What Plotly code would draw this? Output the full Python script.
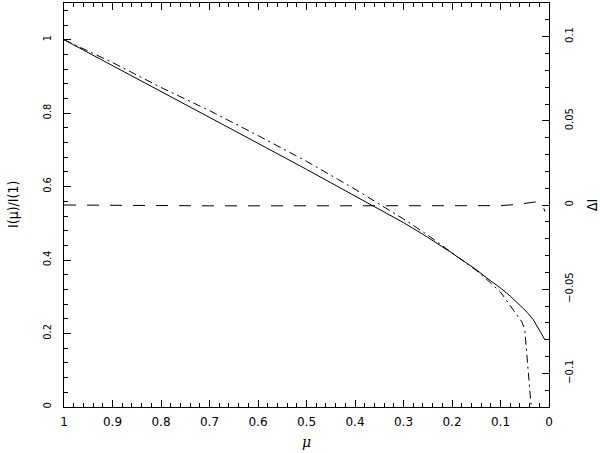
import plotly.graph_objects as go

# Solid curve: I(mu)/I(1)
mu_solid = [1.0, 0.9, 0.8, 0.7, 0.6, 0.5, 0.4, 0.35, 0.3, 0.266, 0.25, 0.2, 0.15,
            0.128, 0.1, 0.08, 0.06, 0.045, 0.032, 0.02, 0.008]
i_solid = [1.0, 0.930, 0.860, 0.789, 0.718, 0.647, 0.575, 0.539, 0.502, 0.475, 0.462,
           0.419, 0.374, 0.351, 0.324, 0.302, 0.278, 0.258, 0.237, 0.209, 0.182]

# Dash-dot curve: I(mu)/I(1), second model
mu_dd = [1.0, 0.9, 0.8, 0.7, 0.6, 0.5, 0.4, 0.35, 0.3, 0.25, 0.2, 0.15, 0.128, 0.1,
         0.0735, 0.056, 0.05, 0.046, 0.043, 0.038, 0.036]
i_dd = [1.0, 0.938, 0.870, 0.807, 0.739, 0.669, 0.593, 0.553, 0.512, 0.468, 0.421,
        0.372, 0.347, 0.313, 0.264, 0.232, 0.212, 0.146, 0.083, 0.020, 0.0]

# Dashed curve: Delta I (right axis)
mu_di = [1.0, 0.9, 0.8, 0.7, 0.6, 0.5, 0.4, 0.3, 0.2, 0.15, 0.1, 0.06, 0.04, 0.03,
         0.02, 0.012, 0.008]
delta_i = [0.0, -0.0003, -0.0005, -0.0005, -0.0005, -0.0005, -0.0005, -0.0005,
           -0.0006, -0.0006, -0.0004, 0.0005, 0.0012, 0.0018, 0.0015, -0.001, -0.004]

x_ticks = [1, 0.9, 0.8, 0.7, 0.6, 0.5, 0.4, 0.3, 0.2, 0.1, 0]

fig = go.Figure()
fig.add_trace(go.Scatter(x=mu_solid, y=i_solid, mode="lines",
                         line=dict(color="black", width=1), showlegend=False))
fig.add_trace(go.Scatter(x=mu_dd, y=i_dd, mode="lines",
                         line=dict(color="black", width=1, dash="8px,4px,2px,4px"),
                         showlegend=False))
fig.add_trace(go.Scatter(x=mu_di, y=delta_i, mode="lines", yaxis="y2",
                         line=dict(color="black", width=1, dash="12px,11px"),
                         showlegend=False))

tick_font_x = dict(family="DejaVu Sans", size=12, color="black")
tick_font_y = dict(family="DejaVu Sans Condensed", size=11, color="black")

fig.update_layout(
    width=600, height=453,
    margin=dict(l=64, r=51, t=3, b=46),
    paper_bgcolor="white", plot_bgcolor="white",
    xaxis=dict(range=[1, 0], tickvals=x_ticks, ticks="inside", ticklen=7,
               tickwidth=1, tickcolor="black", showline=True, linecolor="black",
               linewidth=1, mirror="ticks", showgrid=False, zeroline=False,
               tickfont=tick_font_x, ticklabelstandoff=4,
               minor=dict(dtick=0.02, ticks="inside", ticklen=4, tickcolor="black",
                          showgrid=False)),
    yaxis=dict(range=[0, 1.1], dtick=0.2, tick0=0, ticks="inside", ticklen=7,
               tickwidth=1, tickcolor="black", showline=True, linecolor="black",
               linewidth=1, showgrid=False, zeroline=False, tickangle=-90,
               tickfont=tick_font_y, ticklabelstandoff=8,
               minor=dict(dtick=0.04, tick0=0, ticks="inside", ticklen=4,
                          tickcolor="black", showgrid=False)),
    yaxis2=dict(range=[-0.12, 0.12], dtick=0.05, tick0=0, overlaying="y",
                side="right", ticks="inside", ticklen=7, tickwidth=1,
                tickcolor="black", showline=True, linecolor="black", linewidth=1,
                showgrid=False, zeroline=False, tickangle=-90,
                tickfont=tick_font_y, ticklabelstandoff=10,
                minor=dict(dtick=0.01, tick0=0, ticks="inside", ticklen=4,
                           tickcolor="black", showgrid=False)),
    annotations=[
        dict(text="<i>μ</i>", xref="paper", yref="paper", x=0.5, y=0,
             xanchor="center", yanchor="middle", yshift=-35, showarrow=False,
             font=dict(family="DejaVu Serif", size=14, color="black")),
        dict(text="I(μ)/I(1)", xref="paper", yref="paper", x=0, y=0.5,
             xanchor="center", yanchor="middle", xshift=-51, textangle=-90,
             showarrow=False,
             font=dict(family="DejaVu Sans Condensed", size=14, color="black")),
        dict(text="ΔI", xref="paper", yref="paper", x=1, y=0.5,
             xanchor="center", yanchor="middle", xshift=43, textangle=-90,
             showarrow=False,
             font=dict(family="DejaVu Sans Condensed", size=14, color="black")),
    ],
)

fig.write_html("out.html",
               config={"displayModeBar": False},
               post_script="document.body.style.margin='0';"
                           "document.body.style.overflow='hidden';")
